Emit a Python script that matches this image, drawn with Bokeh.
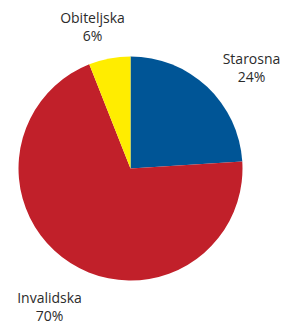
import math
from bokeh.plotting import figure
from bokeh.models import Range1d, ColumnDataSource
from bokeh.core.properties import value
from bokeh.embed import file_html
from bokeh.resources import INLINE

categories = ["Starosna", "Invalidska", "Obiteljska"]
shares = [24, 70, 6]
colors = ["#005596", "#C1202A", "#FFED00"]

# layout
W, H = 284, 324
cx, cy, R = 130, -168, 112
label_pos = [(251, -67), (49, -306), (92, -26)]

p = figure(width=W, height=H, x_range=Range1d(0, W), y_range=Range1d(-H, 0),
           output_backend="svg", toolbar_location=None, min_border=0,
           outline_line_color=None)
p.axis.visible = False
p.grid.visible = False
p.background_fill_color = "white"
p.border_fill_color = "white"

total = sum(shares)
starts, ends = [], []
cum = 0
for s in shares:
    starts.append(math.pi / 2 - 2 * math.pi * cum / total)
    cum += s
    ends.append(math.pi / 2 - 2 * math.pi * cum / total)

src = ColumnDataSource(dict(x=[cx] * 3, y=[cy] * 3, start=starts, end=ends, color=colors))
p.wedge(x="x", y="y", radius=R, start_angle="start", end_angle="end",
        direction="clock", fill_color="color", line_color=None, source=src)

lx = [pt[0] for pt in label_pos]
ly = [pt[1] for pt in label_pos]
texts = [f"{c}\n{s}%" for c, s in zip(categories, shares)]
p.text(x=lx, y=ly, text=texts, text_align="center", text_baseline="middle",
       text_font=value("Open Sans"), text_font_size="14px", text_color="#2b2b2b",
       text_line_height=0.95)

open("out.html", "w").write(file_html(p, INLINE))
